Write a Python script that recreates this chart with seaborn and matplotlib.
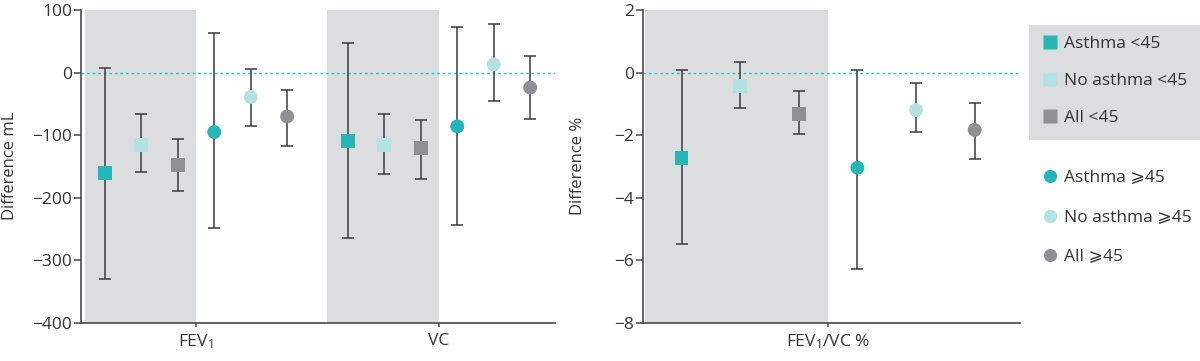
import numpy as np
import pandas as pd
import matplotlib
matplotlib.use("Agg")
import matplotlib.pyplot as plt
from matplotlib.lines import Line2D
from matplotlib.patches import Rectangle
import seaborn as sns

# ---------------- data ----------------
groups = ["Asthma <45", "No asthma <45", "All <45",
          "Asthma \u2a7e45", "No asthma \u2a7e45", "All \u2a7e45"]
left_categories = ["FEV$_1$", "VC"]
right_categories = ["FEV$_1$/VC %"]

fev1_mean = [-161, -115, -148, -95, -39, -70]
fev1_low = [-329, -159, -189, -248, -86, -117]
fev1_high = [7, -66, -106, 64, 5, -27]

vc_mean = [-109, -115, -121, -86, 13, -24]
vc_low = [-264, -162, -170, -244, -45, -74]
vc_high = [47, -66, -76, 73, 77, 27]

ratio_mean = [-2.73, -0.44, -1.31, -3.04, -1.20, -1.83]
ratio_low = [-5.48, -1.12, -1.95, -6.27, -1.91, -2.77]
ratio_high = [0.09, 0.33, -0.59, 0.09, -0.32, -0.96]

left_yticks = [100, 0, -100, -200, -300, -400]
right_yticks = [2, 0, -2, -4, -6, -8]

# ---------------- style ----------------
colors = ["#27b5b8", "#b4e1e6", "#8f9093", "#27b5b8", "#b4e1e6", "#8f9093"]
markers = ["s", "s", "s", "o", "o", "o"]
band_color = "#dcddde"
err_color = "#3a3a3a"
spine_color = "#4a4a4a"
text_color = "#333333"
step = 0.15
FS = 12.5

sns.set_style("ticks")
plt.rcParams["font.family"] = ["Open Sans", "DejaVu Sans"]
plt.rcParams["mathtext.default"] = "regular"
plt.rcParams["font.size"] = FS


def build(cat_names, means, lows, highs):
    rows = []
    for ci, (cname, m, lo, hi) in enumerate(zip(cat_names, means, lows, highs)):
        for gi, g in enumerate(groups):
            rows.append(dict(cat=cname, group=g, pos=ci + (gi - 2.5) * step,
                             mean=m[gi], low=lo[gi], high=hi[gi]))
    return pd.DataFrame(rows)


df_left = build(left_categories, [fev1_mean, vc_mean], [fev1_low, vc_low], [fev1_high, vc_high])
df_right = build(right_categories, [ratio_mean], [ratio_low], [ratio_high])

fig = plt.figure(figsize=(12, 3.61), dpi=100)
ax1 = fig.add_axes([81 / 1200, 1 - 323 / 361, (555 - 81) / 1200, 313 / 361])
ax2 = fig.add_axes([643 / 1200, 1 - 323 / 361, (1020 - 643) / 1200, 313 / 361])


def draw(ax, df, ncat, xlim, bands, ylim, yticks, ylabel, cats, ylabel_x):
    for b0, b1 in bands:
        ax.axvspan(b0, b1, color=band_color, lw=0, zorder=0)
    ax.axhline(0, color="#3dbfc2", lw=1.0, dashes=(2, 2), zorder=1)
    for gi, g in enumerate(groups):
        sub = df[df.group == g]
        ax.errorbar(sub.pos, sub["mean"],
                    yerr=[sub["mean"] - sub["low"], sub["high"] - sub["mean"]],
                    fmt="none", ecolor=err_color, elinewidth=1.1,
                    capsize=4.5, capthick=1.1, zorder=2)
    sns.scatterplot(data=df, x="pos", y="mean", hue="group", style="group",
                    hue_order=groups, style_order=groups,
                    palette=dict(zip(groups, colors)),
                    markers=dict(zip(groups, markers)),
                    s=100, edgecolor="none", linewidth=0, legend=False,
                    ax=ax, zorder=3)
    ax.set_xlim(*xlim)
    ax.set_ylim(*ylim)
    ax.set_yticks(yticks)
    ax.set_yticklabels([("\u2212" + str(abs(t))) if t < 0 else str(t) for t in yticks])
    ax.set_xticks(range(ncat))
    ax.set_xticklabels(cats)
    ax.set_xlabel("")
    ax.set_ylabel(ylabel, color=text_color, fontsize=12)
    ax.yaxis.set_label_coords(ylabel_x, 1 - 166 / 361, transform=fig.transFigure)
    sns.despine(ax=ax)
    for s in ["left", "bottom"]:
        ax.spines[s].set_color(spine_color)
        ax.spines[s].set_linewidth(1.2)
    ax.tick_params(axis="y", length=5, width=1.1, color=spine_color,
                   labelcolor=text_color, labelsize=FS, pad=1.5)
    ax.tick_params(axis="x", length=3, width=1.1, color=spine_color,
                   labelcolor=text_color, labelsize=FS, pad=4)
    ax.set_facecolor("white")


draw(ax1, df_left, 2, (-0.473, 1.477), [(-0.457, 0.0), (0.539, 1.0)],
     (-400, 100), left_yticks, "Difference mL", left_categories, 18 / 1200)
draw(ax2, df_right, 1, (-0.4735, 0.491), [(-0.468, 0.0)],
     (-8, 2), right_yticks, "Difference %", right_categories, 586 / 1200)

# legend
fig.patches.append(Rectangle((1029 / 1200, 1 - 140 / 361), (1200 - 1029) / 1200, 115 / 361,
                             transform=fig.transFigure, facecolor=band_color,
                             edgecolor="none", zorder=0))


def handles(idx):
    return [Line2D([], [], marker=markers[i], color="none", markerfacecolor=colors[i],
                   markeredgecolor="none", markersize=9.5, label=groups[i]) for i in idx]


common = dict(frameon=False, fontsize=FS, loc="upper left", borderpad=0,
              borderaxespad=0, handlelength=0.72, handletextpad=0.42,
              labelcolor=text_color)
leg1 = fig.legend(handles=handles([0, 1, 2]), bbox_to_anchor=(1044 / 1200, 1 - 36 / 361),
                  labelspacing=1.2, **common)
leg2 = fig.legend(handles=handles([3, 4, 5]), bbox_to_anchor=(1044 / 1200, 1 - 170 / 361),
                  labelspacing=1.35, **common)

fig.savefig("out.png", dpi=100, facecolor="white")
